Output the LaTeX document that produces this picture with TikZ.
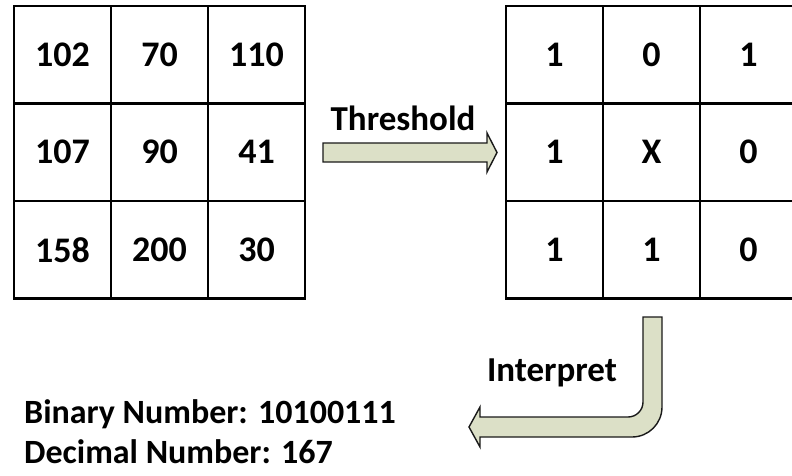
\documentclass[tikz,border=0pt]{standalone}
\usepackage{fontspec}
\setmainfont{Carlito}
\begin{document}
\begin{tikzpicture}[x=1pt,y=-1pt,
  cell/.style={draw=black,line width=2.2pt,minimum width=97pt,minimum height=97.5pt,
    inner sep=0pt,font=\fontsize{36}{40}\selectfont\bfseries},
  label/.style={inner sep=0pt,font=\fontsize{35}{40}\selectfont\bfseries},
  result/.style={inner sep=0pt,anchor=west,font=\fontsize{34}{38}\selectfont\bfseries},
  blockarrow/.style={draw=black!90,line width=1.4pt,fill=arrowfill,line join=miter}]
\definecolor{arrowfill}{RGB}{220,224,199}
\useasboundingbox (0,0) rectangle (792,476);
\clip (0,0) rectangle (792,476);

% grey-level values
\foreach \r/\a/\b/\c in {0/102/70/110,1/107/90/41,2/158/200/30}{
  \node[cell] (L\r0) at (62.5,{54.75+97.5*\r}) {\a};
  \node[cell] (L\r1) at (159.5,{54.75+97.5*\r}) {\b};
  \node[cell] (L\r2) at (256.5,{54.75+97.5*\r}) {\c};
}
% thresholded pattern
\foreach \r/\a/\b/\c in {0/1/0/1,1/1/X/0,2/1/1/0}{
  \node[cell] (R\r0) at (554.5,{54.75+97.5*\r}) {\a};
  \node[cell] (R\r1) at (651.5,{54.75+97.5*\r}) {\b};
  \node[cell] (R\r2) at (748.5,{54.75+97.5*\r}) {\c};
}

% threshold arrow
\draw[blockarrow] (323,143) -- (487,143) -- (487,133) -- (497,152.5)
  -- (487,172) -- (487,162) -- (323,162) -- cycle;
\node[label] (thr) at (403,118) {Threshold};

% interpret arrow
\draw[blockarrow] (643,317) -- (662,317) -- (662,407)
  .. controls (662,423.6) and (648.6,437) .. (632,437)
  -- (480,437) -- (480,447) -- (469,427) -- (480,407) -- (480,417)
  -- (628,417) .. controls (636.3,417) and (643,410.3) .. (643,402) -- cycle;
\node[label] (int) at (552,373) {Interpret};

% result
\node[result] (bin) at (24,414) {Binary Number: 10100111};
\node[result] (dec) at (24,452) {Decimal Number: 167};
\end{tikzpicture}
\end{document}
